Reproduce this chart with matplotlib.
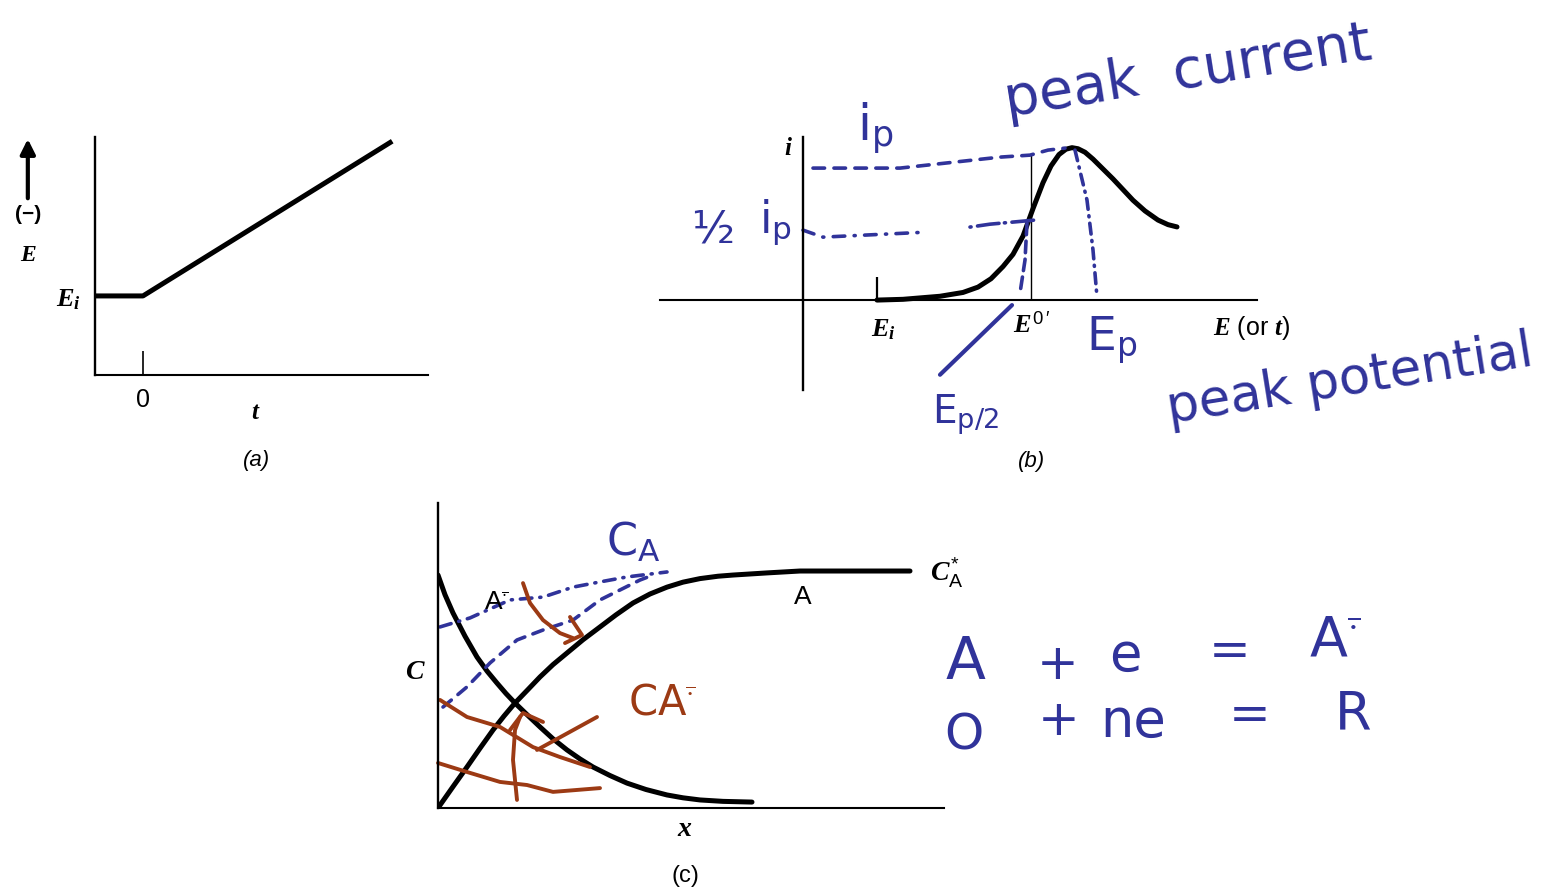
import numpy as np
import matplotlib.pyplot as plt

W, H = 1557, 888
BLUE = '#30339a'
BROWN = '#9c3a14'

plt.rcParams['mathtext.fontset'] = 'custom'
plt.rcParams['mathtext.rm'] = 'Liberation Sans'
plt.rcParams['mathtext.it'] = 'Liberation Serif:italic:bold'
plt.rcParams['mathtext.bf'] = 'Liberation Serif:bold'
plt.rcParams['mathtext.sf'] = 'DejaVu Sans'

# (a) linear potential sweep
t_a = [-1.0, 0.0, 5.15]
E_a = [1.0, 1.0, 2.94]

# (b) current vs potential
E_b = [0.74, 1.00, 1.37, 1.60, 1.75, 1.88, 2.00, 2.10, 2.20, 2.30, 2.40, 2.48, 2.56,
       2.63, 2.69, 2.75, 2.82, 2.90, 3.00, 3.10, 3.20, 3.30, 3.42, 3.55, 3.65, 3.74]
i_b = [0.0, 0.005, 0.025, 0.05, 0.085, 0.14, 0.22, 0.30, 0.42, 0.60, 0.77, 0.88, 0.955,
       0.99, 1.0, 0.993, 0.97, 0.925, 0.86, 0.795, 0.725, 0.655, 0.585, 0.525, 0.495, 0.48]
E_start, E_formal = 0.74, 2.28

# hand-drawn guides on (b)
ip_E = [0.10, 0.97, 1.97, 2.27, 2.45, 2.62]
ip_i = [0.866, 0.866, 0.938, 0.951, 0.984, 0.997]
half1_E = [0.0, 0.20, 1.24]
half1_i = [0.459, 0.413, 0.446]
half2_E = [1.67, 1.87, 2.32]
half2_i = [0.479, 0.498, 0.525]
halfdrop_E = [2.24, 2.22, 2.17]
halfdrop_i = [0.505, 0.262, 0.046]
peakdrop_E = [2.72, 2.84, 2.90, 2.94]
peakdrop_i = [0.984, 0.656, 0.328, 0.02]
slash_E = [2.09, 1.37]
slash_i = [-0.033, -0.49]

# (c) concentration profiles
x_A = [0, 0.15, 0.29, 0.42, 0.55, 0.66, 0.77, 0.90, 1.02, 1.15, 1.29, 1.45, 1.62,
       1.78, 1.95, 2.12, 2.29, 2.45, 2.62, 2.80, 2.95, 3.29, 3.62, 3.95, 4.72]
C_A = [0, 0.09, 0.173, 0.252, 0.329, 0.388, 0.443, 0.500, 0.553, 0.605, 0.654, 0.710, 0.764,
       0.815, 0.865, 0.903, 0.932, 0.953, 0.968, 0.978, 0.983, 0.992, 1.0, 1.0, 1.0]
x_R = [0, 0.07, 0.15, 0.27, 0.39, 0.49, 0.59, 0.68, 0.77, 0.90, 1.02, 1.15, 1.29,
       1.42, 1.55, 1.72, 1.89, 2.08, 2.29, 2.45, 2.62, 2.85, 3.14]
C_R = [0.983, 0.90, 0.823, 0.725, 0.637, 0.578, 0.527, 0.483, 0.443, 0.390, 0.342, 0.292, 0.245,
       0.207, 0.173, 0.137, 0.105, 0.078, 0.055, 0.043, 0.034, 0.028, 0.025]

# hand-drawn sketches on (c)
blue1_x = [0.02, 0.32, 0.72, 1.05, 1.35, 1.62, 1.89, 2.29]
blue1_C = [0.764, 0.802, 0.878, 0.890, 0.932, 0.954, 0.975, 0.996]
blue2_x = [0.05, 0.29, 0.52, 0.79, 1.05, 1.35, 1.62, 2.02, 2.15]
blue2_C = [0.426, 0.511, 0.612, 0.709, 0.751, 0.793, 0.878, 0.962, 0.983]
brown1_x = [0.02, 0.29, 0.62, 0.95, 1.22, 1.52]
brown1_C = [0.456, 0.384, 0.342, 0.257, 0.215, 0.173]
brown2_x = [0.0, 0.29, 0.62, 0.89, 1.15, 1.62]
brown2_C = [0.190, 0.152, 0.110, 0.097, 0.068, 0.084]
up_x = [0.79, 0.75, 0.77, 0.82]
up_C = [0.034, 0.203, 0.329, 0.384]
uphead_x = [0.72, 0.85, 1.05]
uphead_C = [0.329, 0.401, 0.363]
point_x = [1.59, 0.99]
point_C = [0.384, 0.245]
down_x = [0.85, 0.92, 1.05, 1.22, 1.35]
down_C = [0.949, 0.865, 0.793, 0.738, 0.717]
downhead_x = [1.32, 1.44, 1.27]
downhead_C = [0.806, 0.730, 0.696]

fig = plt.figure(figsize=(W / 100, H / 100), dpi=100)


def box(l, t, r, b):
    ax = fig.add_axes([l / W, 1 - b / H, (r - l) / W, (b - t) / H])
    ax.patch.set_visible(False)
    for s in ['top', 'right']:
        ax.spines[s].set_visible(False)
    ax.spines['left'].set_linewidth(1.7)
    ax.spines['bottom'].set_linewidth(1.5)
    return ax


def note(px, py, s, **kw):
    kw.setdefault('color', BLUE)
    kw.setdefault('family', 'DejaVu Sans')
    fig.text(px / W, 1 - py / H, s, ha='center', va='center', **kw)


serif = dict(family='Liberation Serif', style='italic', weight='bold')
sans = dict(family='Liberation Sans')

# ---- (a) ----
ax_a = box(95, 137, 428, 375)
ax_a.set_xlim(-1, 5.94)
ax_a.set_ylim(0, 3.01)
ax_a.plot(t_a, E_a, color='black', lw=3.6, solid_joinstyle='round')
ax_a.set_xticks([0])
ax_a.set_xticklabels(['0'], fontsize=18, **sans)
ax_a.tick_params(axis='x', direction='in', length=17, width=1.2, pad=9)
ax_a.set_yticks([1.0])
ax_a.set_yticklabels([r'$E_i$'], fontsize=19)
ax_a.tick_params(axis='y', length=0, pad=10)
ax_a.text(2.33, -0.48, 't', fontsize=18, ha='center', va='center', **serif)
ax_a.text(2.375, -1.08, '(a)', fontsize=16, ha='center', va='center', style='italic', family='Liberation Sans')
ax_a.text(-2.40, 1.51, 'E', fontsize=17, ha='center', va='center', **serif)
ax_a.text(-2.40, 2.03, '(\u2212)', fontsize=15, ha='center', va='center', weight='bold', family='Liberation Sans')
ax_a.annotate('', xy=(-2.40, 3.02), xytext=(-2.40, 2.2), annotation_clip=False,
              arrowprops=dict(arrowstyle='-|>', lw=3, color='black', mutation_scale=22))

# ---- (b) ----
ax_b = box(660, 137, 1257, 390)
ax_b.set_xlim(-1.43, 4.54)
ax_b.set_ylim(-0.59, 1.07)
ax_b.spines['left'].set_position(('data', 0))
ax_b.spines['bottom'].set_position(('data', 0))
ax_b.set_xticks([])
ax_b.set_yticks([])
ax_b.plot(E_b, i_b, color='black', lw=3.6, solid_capstyle='round', solid_joinstyle='round')
ax_b.vlines(E_start, 0, 0.15, color='black', lw=1.6)
ax_b.vlines(E_formal, 0, 0.96, color='black', lw=1.0)
ax_b.text(-0.15, 1.0, r'$i$', fontsize=18, ha='center', va='center')
ax_b.text(0.80, -0.19, r'$E_i$', fontsize=19, ha='center', va='center')
ax_b.text(2.29, -0.17, r'$E^{\mathrm{0\,\prime}}$', fontsize=19, ha='center', va='center')
ax_b.text(4.49, -0.18, r'$E$ (or $t$)', fontsize=18, ha='center', va='center', **sans)
ax_b.text(2.29, -1.06, '(b)', fontsize=16, ha='center', va='center', style='italic', family='Liberation Sans')

hand = dict(color=BLUE, lw=2.6, clip_on=False, solid_capstyle='round', dash_capstyle='round')
ax_b.plot(ip_E, ip_i, ls=(0, (3.2, 2.6)), **hand)
ax_b.plot(half1_E, half1_i, ls=(0, (3.2, 2.6, 0.3, 2.6)), **hand)
ax_b.plot(half2_E, half2_i, ls=(0, (0.3, 1.8, 6, 1.5)), **hand)
ax_b.plot(halfdrop_E, halfdrop_i, ls=(0, (3.2, 1.8)), **hand)
ax_b.plot(peakdrop_E, peakdrop_i, ls=(0, (3.0, 1.8, 0.3, 1.8)), **hand)
ax_b.plot(slash_E, slash_i, color=BLUE, lw=3, clip_on=False, solid_capstyle='round')

# ---- (c) ----
ax_c = box(438, 503, 944, 808)
ax_c.set_xlim(0, 5.06)
ax_c.set_ylim(0, 1.287)
ax_c.set_xticks([])
ax_c.set_yticks([])
ax_c.plot(x_A, C_A, color='black', lw=3.6, solid_capstyle='round', solid_joinstyle='round')
ax_c.plot(x_R, C_R, color='black', lw=3.6, solid_capstyle='round', solid_joinstyle='round')
ax_c.text(-0.23, 0.58, r'$C$', fontsize=20, ha='center', va='center')
ax_c.text(2.47, -0.085, r'$x$', fontsize=20, ha='center', va='center')
ax_c.text(2.47, -0.285, '(c)', fontsize=17, ha='center', va='center', family='Liberation Sans')
ax_c.text(3.65, 0.89, 'A', fontsize=19, ha='center', va='center', **sans)
ax_c.text(0.58, 0.865, r'$\mathrm{A}^{\overline{\cdot}}$', fontsize=19, ha='center', va='center')
ax_c.text(4.92, 0.99, r'$C^{*}_{\mathrm{A}}$', fontsize=20, ha='left', va='center')

ax_c.plot(blue1_x, blue1_C, ls=(0, (3.2, 2.2, 0.3, 2.2)), **hand)
ax_c.plot(blue2_x, blue2_C, ls=(0, (3.0, 2.4)), **hand)
brown = dict(color=BROWN, lw=2.8, clip_on=False, solid_capstyle='round', solid_joinstyle='round')
for xs, cs in [(brown1_x, brown1_C), (brown2_x, brown2_C), (up_x, up_C), (uphead_x, uphead_C),
               (point_x, point_C), (down_x, down_C), (downhead_x, downhead_C)]:
    ax_c.plot(xs, cs, **brown)

# ---- handwritten notes ----
note(875, 128, r'$\mathsf{i}_{\mathsf{p}}$', fontsize=36)
note(1188, 72, 'peak  current', fontsize=40, rotation=9, rotation_mode='anchor')
note(713, 230, '\u00bd', fontsize=32)
note(775, 222, r'$\mathsf{i}_{\mathsf{p}}$', fontsize=32)
note(1112, 340, r'$\mathsf{E}_{\mathsf{p}}$', fontsize=34)
note(965, 415, r'$\mathsf{E}_{\mathsf{p/2}}$', fontsize=28)
note(1350, 380, 'peak potential', fontsize=37, rotation=9, rotation_mode='anchor')
note(633, 542, r'$\mathsf{C}_{\mathsf{A}}$', fontsize=32)
note(662, 702, r'$\mathsf{C}\mathsf{A}^{\overline{\cdot}}$', fontsize=30, color=BROWN)

# reaction equations
note(965, 662, 'A', fontsize=42)
note(1058, 665, '+', fontsize=36)
note(1125, 656, 'e', fontsize=38)
note(1230, 652, '=', fontsize=36)
note(1335, 640, r'$\mathsf{A}^{\overline{\cdot}}$', fontsize=40)
note(964, 735, 'O', fontsize=36)
note(1059, 721, '+', fontsize=36)
note(1133, 722, 'ne', fontsize=38)
note(1250, 716, '=', fontsize=36)
note(1353, 714, 'R', fontsize=38)

fig.savefig('out.png', dpi=100, facecolor='white')
